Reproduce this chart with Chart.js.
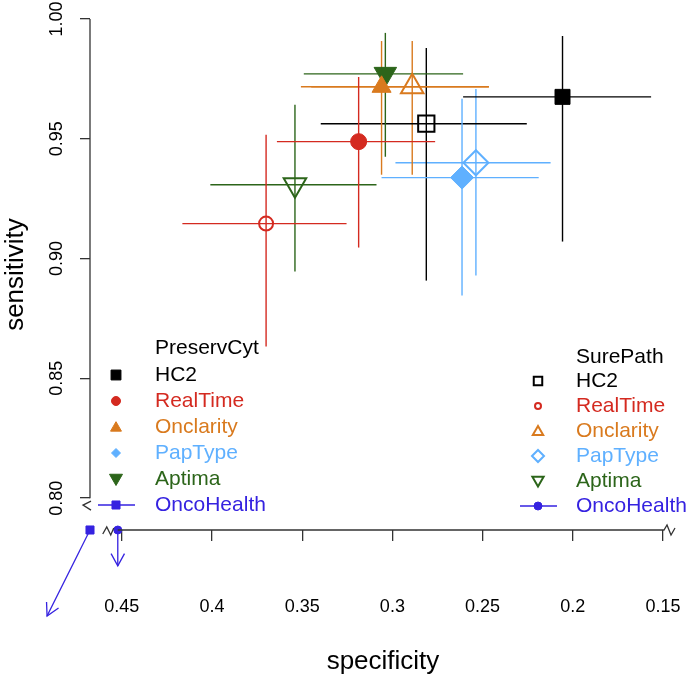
<!DOCTYPE html>
<html>
<head>
<meta charset="utf-8">
<script src="https://cdn.jsdelivr.net/npm/chart.js@4.4.0/dist/chart.umd.min.js"></script>
<style>
  html, body { margin: 0; padding: 0; background: #fff; }
</style>
</head>
<body>
<canvas id="rocChart" width="691" height="677"></canvas>
<script>
// ---- values ----
const media = ['PreservCyt', 'SurePath'];
const assays = ['HC2', 'RealTime', 'Onclarity', 'PapType', 'Aptima'];
const oncoLabel = 'OncoHealth';

// PreservCyt: point estimate + 95% CI
const pcSpec   = [0.2057, 0.3187, 0.3060, 0.2614, 0.3039];
const pcSpecLo = [0.1566, 0.2763, 0.2465, 0.2189, 0.2608];
const pcSpecHi = [0.2608, 0.3640, 0.3507, 0.3060, 0.3491];
const pcSens   = [0.9675, 0.9488, 0.9717, 0.9338, 0.9771];
const pcSensLo = [0.9071, 0.9046, 0.9350, 0.8846, 0.9425];
const pcSensHi = [0.9929, 0.9758, 0.9908, 0.9667, 0.9942];

// SurePath
const spSpec   = [0.2812, 0.3700, 0.2890, 0.2537, 0.3540];
const spSpecLo = [0.2255, 0.3254, 0.2465, 0.2123, 0.3088];
const spSpecHi = [0.3397, 0.4164, 0.3450, 0.2983, 0.4009];
const spSens   = [0.9563, 0.9146, 0.9717, 0.9400, 0.9308];
const spSensLo = [0.8908, 0.8633, 0.9350, 0.8929, 0.8946];
const spSensHi = [0.9879, 0.9517, 0.9908, 0.9708, 0.9642];

// OncoHealth is off the scale: marker at the axis break, arrow pointing away
const oncoSpec      = [0.4676, 0.4522];
const oncoSens      = [0.7867, 0.7867];
const oncoArrowSpec = [0.4914, 0.4522];
const oncoArrowSens = [0.7508, 0.7717];

const xTicks = [0.45, 0.4, 0.35, 0.3, 0.25, 0.2, 0.15];
const yTicks = [0.80, 0.85, 0.90, 0.95, 1.00];

// ---- styles ----
const FONT = '"Liberation Sans", Arial, Helvetica, sans-serif';
const assayColors = ['#000000', '#d42a20', '#d97a1e', '#5fb0ff', '#2c651a'];
const oncoColor = '#3522e0';
const pointStyles = ['rect', 'circle', 'triangle', 'rectRot', 'triangle'];
const pointRot    = [0, 0, 0, 0, 180];
const pcRadius = [10.6, 8, 11, 11.5, 13];
const spRadius = [11.5, 7, 13, 12.5, 13];
const pcLegendRadius = [7, 4.5, 6.3, 4.5, 7.5];
const spLegendRadius = [6, 3, 6, 6, 6.5];

const datasets = [];

function addGroup(spec, specLo, specHi, sens, sensLo, sensHi, open, radii) {
    for (let i = 0; i < assays.length; i++) {
        const c = assayColors[i];
        datasets.push({
            label: assays[i],
            data: [{ x: spec[i], y: sens[i] }],
            pointStyle: pointStyles[i],
            rotation: pointRot[i],
            pointRadius: radii[i],
            backgroundColor: open ? 'rgba(0,0,0,0)' : c,
            borderColor: c,
            borderWidth: open ? 2 : 1,
            order: 1,
            clip: false
        });
        // horizontal and vertical CI bars
        datasets.push({
            type: 'line',
            data: [{ x: specLo[i], y: sens[i] }, { x: specHi[i], y: sens[i] }],
            borderColor: c, borderWidth: 1.4, pointRadius: 0, order: 2, clip: false
        });
        datasets.push({
            type: 'line',
            data: [{ x: spec[i], y: sensLo[i] }, { x: spec[i], y: sensHi[i] }],
            borderColor: c, borderWidth: 1.4, pointRadius: 0, order: 2, clip: false
        });
    }
}
addGroup(pcSpec, pcSpecLo, pcSpecHi, pcSens, pcSensLo, pcSensHi, false, pcRadius);
addGroup(spSpec, spSpecLo, spSpecHi, spSens, spSensLo, spSensHi, true, spRadius);

// OncoHealth markers + arrows
const oncoStyles = ['rect', 'circle'];
const oncoRadius = [5.7, 4];
for (let j = 0; j < 2; j++) {
    datasets.push({
        label: oncoLabel,
        data: [{ x: oncoSpec[j], y: oncoSens[j] }],
        pointStyle: oncoStyles[j], pointRadius: oncoRadius[j],
        backgroundColor: oncoColor, borderColor: oncoColor, borderWidth: 1,
        order: 1, clip: false
    });
    datasets.push({
        type: 'line', isArrow: true,
        data: [{ x: oncoSpec[j], y: oncoSens[j] }, { x: oncoArrowSpec[j], y: oncoArrowSens[j] }],
        borderColor: oncoColor, borderWidth: 1.3, pointRadius: 0, order: 2, clip: false
    });
}

// axis lines with breaks, arrow heads and the two legends
const overlay = {
    id: 'overlay',
    afterDatasetsDraw(chart) {
        const ctx = chart.ctx;
        const xs = chart.scales.x, ys = chart.scales.y;
        const area = chart.chartArea;
        ctx.save();
        ctx.strokeStyle = '#333';
        ctx.lineWidth = 1.3;

        // y axis 1.00 -> 0.80 and a zigzag break below
        const yl = area.left;
        ctx.beginPath();
        ctx.moveTo(yl, ys.getPixelForValue(yTicks[yTicks.length - 1]));
        ctx.lineTo(yl, ys.getPixelForValue(yTicks[0]));
        ctx.stroke();
        const yb = ys.getPixelForValue(yTicks[0]);
        ctx.beginPath();
        ctx.moveTo(yl + 1, yb + 3);
        ctx.lineTo(yl - 7, yb + 7);
        ctx.lineTo(yl + 1, yb + 12);
        ctx.stroke();

        // x axis 0.45 -> 0.15 with zigzags on both ends
        const xb = area.bottom;
        const xl = xs.getPixelForValue(xTicks[0]);
        const xr = xs.getPixelForValue(xTicks[xTicks.length - 1]);
        ctx.beginPath();
        ctx.moveTo(xl - 4, xb);
        ctx.lineTo(xr + 1, xb);
        ctx.lineTo(xr + 4, xb - 5);
        ctx.lineTo(xr + 8, xb + 5);
        ctx.lineTo(xr + 12, xb - 2);
        ctx.stroke();
        ctx.beginPath();
        ctx.moveTo(xl - 19, xb + 4);
        ctx.lineTo(xl - 15, xb - 3);
        ctx.lineTo(xl - 11, xb + 5);
        ctx.lineTo(xl - 8, xb - 2);
        ctx.stroke();

        // arrow heads
        chart.data.datasets.forEach((ds, k) => {
            if (!ds.isArrow) return;
            const pts = chart.getDatasetMeta(k).data;
            const a = pts[0], b = pts[1];
            const ang = Math.atan2(b.y - a.y, b.x - a.x);
            const L = 14;
            ctx.strokeStyle = ds.borderColor;
            ctx.lineWidth = 1.3;
            ctx.beginPath();
            ctx.moveTo(b.x - L * Math.cos(ang - 0.5), b.y - L * Math.sin(ang - 0.5));
            ctx.lineTo(b.x, b.y);
            ctx.lineTo(b.x - L * Math.cos(ang + 0.5), b.y - L * Math.sin(ang + 0.5));
            ctx.stroke();
        });

        // legends
        const legends = [
            { title: media[0], sx: 116, tx: 155, ty: 348, y0: 375, dy: 26, open: false, radii: pcLegendRadius, onco: 'rect', oncoR: 5.7 },
            { title: media[1], sx: 538, tx: 576, ty: 357, y0: 381, dy: 25, open: true, radii: spLegendRadius, onco: 'circle', oncoR: 4 }
        ];
        ctx.font = '21px ' + FONT;
        ctx.textBaseline = 'middle';
        ctx.textAlign = 'left';
        legends.forEach(lg => {
            ctx.fillStyle = '#000';
            ctx.fillText(lg.title, lg.tx, lg.ty);
            for (let i = 0; i <= assays.length; i++) {
                const y = lg.y0 + i * lg.dy;
                const isOnco = i === assays.length;
                const c = isOnco ? oncoColor : assayColors[i];
                ctx.strokeStyle = c;
                if (isOnco) {
                    ctx.lineWidth = 1.5;
                    ctx.beginPath();
                    ctx.moveTo(lg.sx - 18, y);
                    ctx.lineTo(lg.sx + 19, y);
                    ctx.stroke();
                    ctx.fillStyle = c;
                    ctx.lineWidth = 1;
                    Chart.helpers.drawPoint(ctx, { pointStyle: lg.onco, radius: lg.oncoR, rotation: 0, borderWidth: 1 }, lg.sx, y);
                } else {
                    ctx.fillStyle = lg.open ? 'rgba(0,0,0,0)' : c;
                    ctx.lineWidth = lg.open ? 2 : 1;
                    Chart.helpers.drawPoint(ctx, { pointStyle: pointStyles[i], radius: lg.radii[i], rotation: pointRot[i], borderWidth: ctx.lineWidth }, lg.sx, y + (pointStyles[i] === 'triangle' ? (pointRot[i] ? -1 : 1) : 0));
                }
                ctx.fillStyle = c;
                ctx.fillText(isOnco ? oncoLabel : assays[i], lg.tx, y);
            }
        });
        ctx.restore();
    }
};

Chart.defaults.font.family = FONT;
Chart.defaults.color = '#000';

new Chart(document.getElementById('rocChart').getContext('2d'), {
    type: 'scatter',
    data: { datasets },
    options: {
        responsive: false,
        animation: false,
        devicePixelRatio: 1,
        layout: { padding: { top: 19, right: 12, bottom: 0, left: 0 } },
        plugins: { legend: { display: false }, tooltip: { enabled: false } },
        scales: {
            x: {
                type: 'linear',
                reverse: true,
                min: 0.1428,
                max: 0.4676,
                afterBuildTicks: s => { s.ticks = xTicks.map(v => ({ value: v })); },
                afterFit: s => { s.height = 147; s.paddingLeft = 0; s.paddingRight = 0; },
                ticks: {
                    callback: v => String(Math.round(v * 100) / 100),
                    font: { size: 18 }, color: '#000',
                    padding: 55, maxRotation: 0, autoSkip: false
                },
                grid: { drawOnChartArea: false, drawTicks: true, tickLength: 11, color: '#333', lineWidth: 1.3 },
                border: { display: false },
                title: { display: true, text: 'specificity', font: { size: 26 }, color: '#000', padding: 0 }
            },
            y: {
                type: 'linear',
                min: 0.7867,
                max: 1.0,
                afterBuildTicks: s => { s.ticks = yTicks.map(v => ({ value: v })); },
                afterFit: s => { s.width = 90; s.paddingTop = 0; s.paddingBottom = 0; },
                ticks: {
                    callback: v => v.toFixed(2),
                    font: { size: 18 }, color: '#000',
                    minRotation: 90, maxRotation: 90, crossAlign: 'center',
                    padding: 5, autoSkip: false
                },
                grid: { drawOnChartArea: false, drawTicks: true, tickLength: 10, color: '#333', lineWidth: 1.3 },
                border: { display: false },
                title: { display: true, text: 'sensitivity', font: { size: 26 }, color: '#000', padding: 0 }
            }
        }
    },
    plugins: [overlay]
});
</script>
</body>
</html>
